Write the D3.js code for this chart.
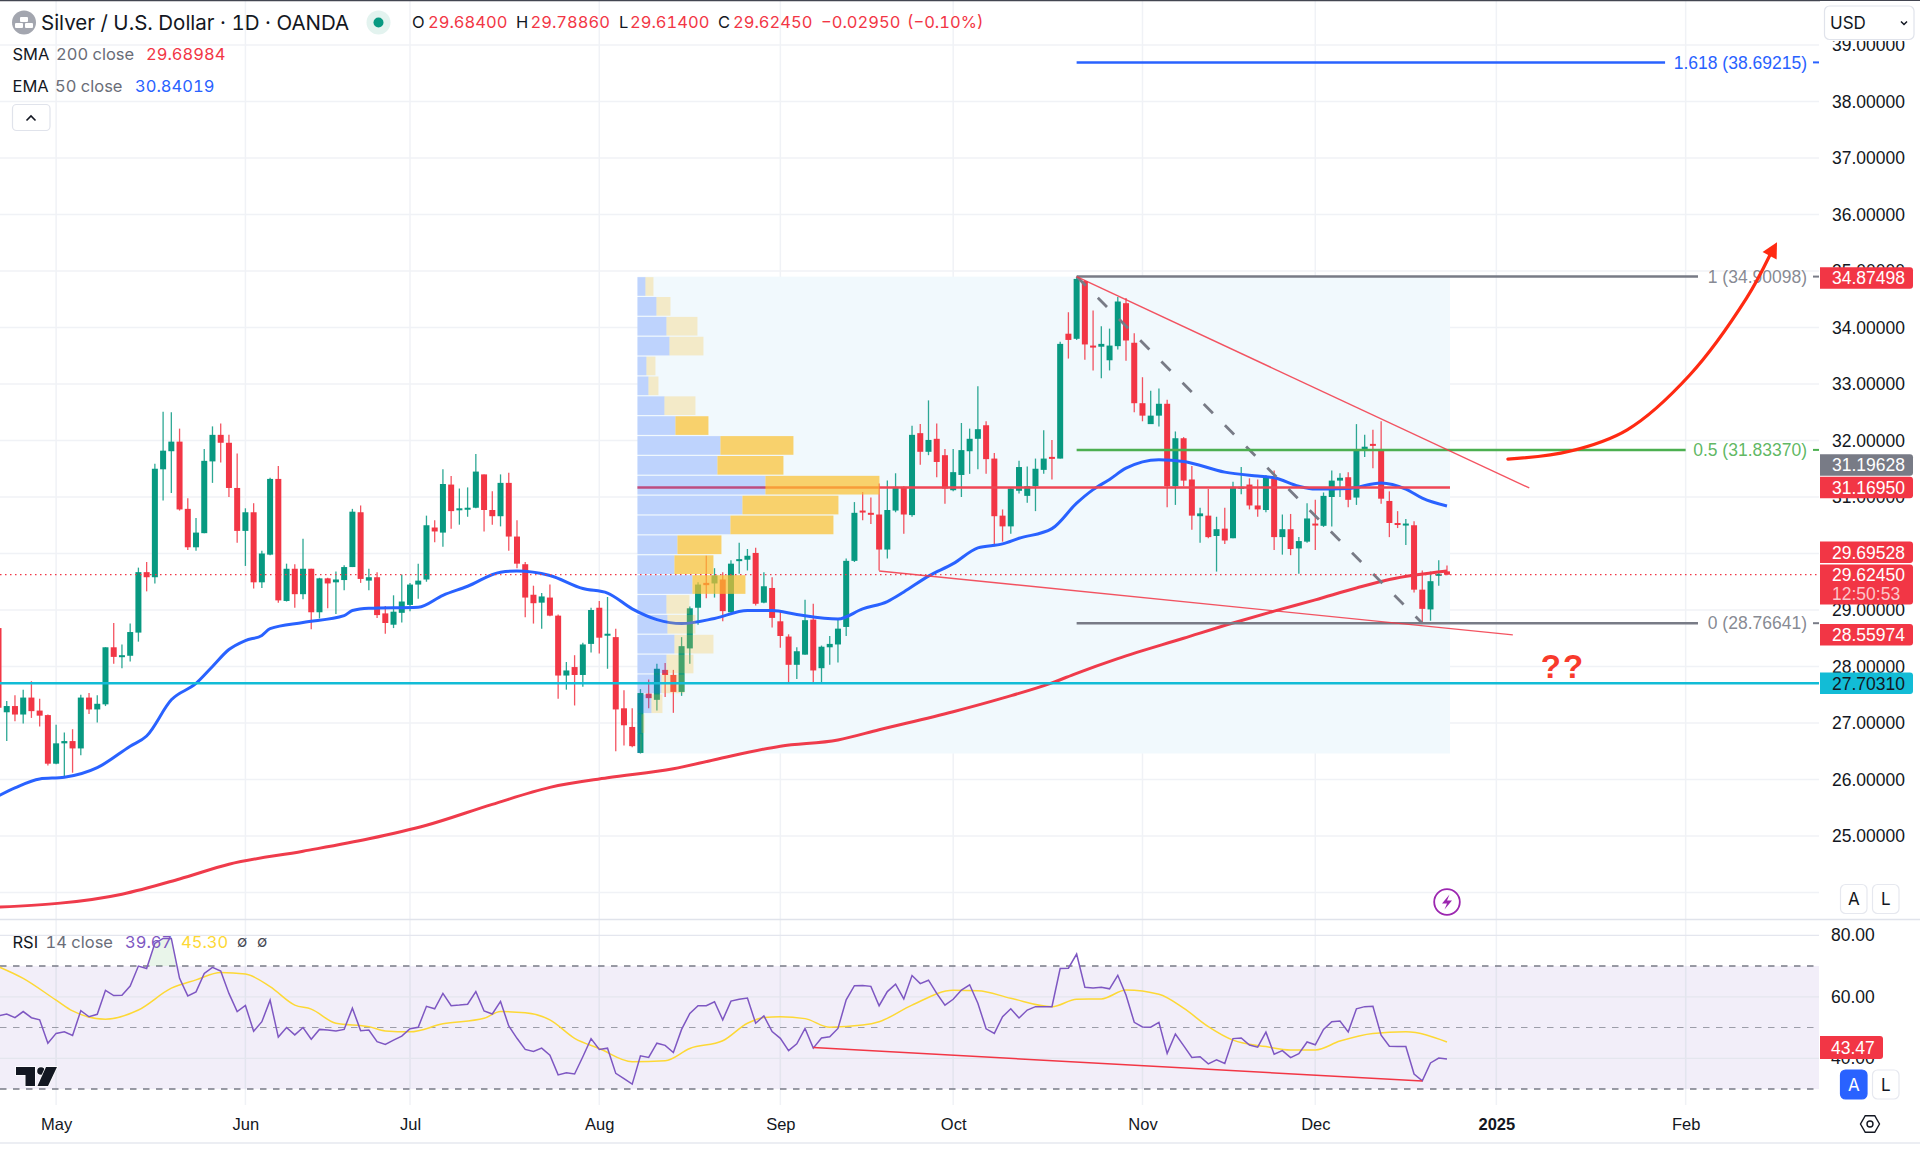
<!DOCTYPE html>
<html>
<head>
<meta charset="utf-8">
<title>Silver / U.S. Dollar</title>
<script src="https://cdn.jsdelivr.net/npm/d3@7"></script>
<style>
body { margin: 0; background: #fff; }
svg { display: block; font-family: Inter, "Noto Sans", sans-serif; font-variant-numeric: tabular-nums; }
</style>
</head>
<body>
<svg id="graph"></svg>
<script>
// candles, one per weekday, starting Apr 22 2024
var barOpen = [
	28.68,27.19,27.30,27.15,27.45,27.22,27.14,26.28,26.64,26.68,
	26.55,27.45,27.24,27.33,28.34,28.17,28.19,28.60,29.67,29.58,
	31.49,31.81,31.98,30.79,30.11,30.36,31.63,32.10,31.96,31.16,
	30.40,30.73,29.49,29.98,31.32,29.16,29.73,29.28,29.73,28.96,
	29.56,29.49,29.53,29.76,30.73,29.52,29.58,28.94,28.74,28.95,
	29.09,29.45,29.54,30.46,30.37,31.22,30.78,30.78,30.81,31.40,
	30.77,30.66,31.25,30.30,29.81,29.27,29.13,29.22,28.90,27.84,
	27.99,27.85,28.40,29.04,28.55,28.52,27.26,26.93,26.47,27.52,
	27.41,27.94,27.85,27.55,28.32,29.04,29.48,29.47,29.54,28.96,
	29.88,29.89,30.01,29.13,29.39,28.80,28.53,28.03,28.21,28.83,
	27.97,28.34,28.39,28.70,29.87,30.76,30.72,30.69,30.07,30.76,
	31.18,30.68,32.13,31.80,32.03,31.74,31.12,31.39,31.81,32.03,
	32.27,31.68,30.67,30.48,31.11,31.02,31.19,31.48,31.71,31.68,
	33.89,33.80,34.82,33.68,33.66,33.42,33.67,34.43,33.73,32.66,
	32.29,32.44,32.65,31.19,32.04,31.31,30.66,30.67,30.31,30.44,
	30.27,31.15,31.22,30.85,30.77,31.32,30.29,30.43,30.09,30.21,
	30.53,30.49,31.00,31.29,31.35,30.99,31.85,31.94,31.85,30.93,
	30.54,30.50,30.50,29.36,29.01,29.62,29.684
];
var barClose = [
	27.27,27.30,27.15,27.45,27.21,27.13,26.28,26.64,26.68,26.55,
	27.45,27.24,27.34,28.34,28.17,28.20,28.61,29.67,29.58,31.50,
	31.82,31.98,30.78,30.11,30.37,31.64,32.10,31.96,31.16,30.40,
	30.73,29.49,30.00,31.32,29.17,29.73,29.28,29.73,28.96,29.56,
	29.47,29.54,29.76,30.74,29.55,29.58,28.91,28.77,28.97,29.15,
	29.45,29.52,30.50,30.39,31.23,30.75,30.80,30.81,31.45,30.77,
	30.66,31.25,30.30,29.82,29.22,29.12,29.24,28.90,27.84,27.93,
	27.85,28.39,29.00,28.51,28.58,27.24,26.96,26.59,27.53,27.44,
	27.96,27.85,27.55,28.36,29.03,29.45,29.44,29.61,28.98,29.82,
	29.90,29.96,29.11,29.42,28.86,28.54,28.03,28.27,28.82,27.93,
	28.35,28.40,28.67,29.87,30.72,30.73,30.69,30.07,30.77,31.18,
	30.69,32.10,31.80,32.01,31.62,31.15,31.44,31.83,32.03,32.20,
	31.67,30.66,30.48,31.15,31.53,31.19,31.50,31.68,31.68,33.71,
	33.78,34.86,33.70,33.67,33.71,33.68,34.46,33.77,32.66,32.44,
	32.44,32.65,31.19,32.04,31.29,30.67,30.71,30.29,30.43,30.23,
	31.18,31.18,30.85,30.78,31.37,30.29,30.43,30.08,30.22,30.62,
	30.51,31.02,31.29,31.34,30.95,31.83,31.89,31.93,30.97,30.54,
	30.53,30.53,29.36,29.02,29.51,29.64,29.6245
];
var barHigh = [
	28.68,27.39,27.49,27.59,27.74,27.43,27.15,26.97,26.83,26.89,
	27.50,27.53,27.49,28.34,28.77,28.39,28.76,29.75,29.85,31.59,
	32.51,32.50,32.21,30.98,30.63,31.85,32.25,32.30,32.10,31.77,
	30.80,30.89,30.05,31.34,31.55,29.82,29.81,30.26,29.73,29.57,
	29.57,29.68,29.79,30.79,30.85,29.73,29.67,29.07,29.26,29.63,
	29.48,29.82,30.67,30.59,31.49,31.37,31.15,31.17,31.76,31.40,
	31.10,31.40,31.43,30.59,29.85,29.43,29.30,29.45,28.92,28.08,
	28.20,28.42,29.04,29.16,29.23,28.67,27.58,27.26,27.60,27.77,
	28.05,28.06,27.94,28.52,29.06,29.49,29.96,29.74,29.67,29.88,
	30.19,30.08,30.10,29.67,29.58,28.98,28.57,28.34,29.18,29.11,
	28.37,28.54,28.84,29.91,30.91,31.09,30.99,31.24,31.29,31.42,
	31.19,32.26,32.29,32.71,32.30,31.85,31.85,32.31,32.21,32.96,
	32.34,31.78,30.78,31.16,31.64,31.54,31.68,32.18,32.01,33.75,
	34.27,34.90,34.83,34.30,34.02,33.98,34.54,34.52,33.90,33.12,
	32.88,32.92,32.72,32.16,32.06,31.55,30.81,31.14,30.65,30.81,
	31.27,31.53,31.33,31.31,31.39,31.47,30.69,30.70,30.29,30.89,
	30.95,31.08,31.47,31.42,31.44,32.29,32.10,32.19,32.34,31.10,
	30.75,30.61,30.57,29.70,29.68,29.88,29.7886
];
var barLow = [
	27.24,26.68,27.03,26.99,27.09,26.94,26.25,26.27,26.03,26.12,
	26.43,27.16,27.01,27.30,28.05,27.97,28.09,28.44,29.33,29.47,
	30.94,31.07,30.76,30.06,30.05,30.36,31.25,31.61,31.00,30.19,
	29.78,29.38,29.39,29.97,29.13,29.15,29.04,29.19,28.66,28.85,
	29.03,28.93,29.35,29.76,29.48,29.35,28.86,28.58,28.68,28.78,
	28.98,29.20,29.50,30.20,30.12,30.44,30.51,30.65,30.80,30.39,
	30.51,30.48,30.05,29.74,28.87,28.76,28.67,28.89,27.43,27.59,
	27.31,27.64,28.25,28.23,27.96,26.50,26.60,26.57,26.46,27.26,
	27.22,27.46,27.18,27.48,28.05,28.74,29.21,29.22,28.80,28.95,
	29.64,29.70,29.08,29.12,28.69,28.33,27.71,27.78,28.21,27.71,
	27.71,28.03,28.07,28.54,29.85,30.59,30.52,29.70,29.91,30.73,
	30.35,30.65,31.57,31.74,31.35,30.88,31.10,31.00,31.41,31.49,
	31.41,30.13,30.21,30.35,31.06,30.90,30.75,31.41,31.31,31.68,
	33.45,33.78,33.43,33.24,33.10,33.24,33.61,33.41,32.50,32.34,
	32.29,32.25,30.82,30.86,31.19,30.42,30.19,30.27,29.68,30.17,
	30.27,31.05,30.78,30.65,30.73,30.06,29.98,29.97,29.64,30.19,
	30.06,30.47,30.48,31.00,30.82,30.86,31.71,31.51,30.88,30.29,
	30.45,30.15,29.31,28.78,28.81,29.43,29.614
];

// moving averages, read at the bars listed next to them
var emaBars = [0,2,5,8,12,16,18,21,24,26,28,30,32,33,37,42,43,45,51,54,57,61,63,67,71,74,77,80,83,87,91,94,97,102,105,108,110,113,116,119,122,124,128,131,133,135,137,141,144,149,153,155,158,160,164,168,171,173,176];
var emaValues = [25.71,25.85,26.01,26.04,26.21,26.59,26.77,27.41,27.70,28.00,28.30,28.46,28.55,28.67,28.78,28.90,28.99,29.03,29.05,29.26,29.42,29.67,29.69,29.61,29.38,29.30,29.02,28.83,28.76,28.85,28.99,28.99,28.92,28.84,29.02,29.15,29.32,29.60,29.82,30.10,30.17,30.27,30.44,30.89,31.13,31.31,31.51,31.66,31.63,31.44,31.37,31.34,31.19,31.14,31.15,31.25,31.14,30.98,30.84];
var smaBars = [0,15,22,28,37,45,52,60,67,74,82,87,95,102,107,116,122,128,131,136,144,150,155,160,165,169,176];
var smaValues = [23.74,23.97,24.24,24.50,24.73,24.95,25.19,25.56,25.86,26.03,26.19,26.35,26.59,26.70,26.88,27.20,27.44,27.71,27.88,28.14,28.50,28.77,28.98,29.18,29.39,29.54,29.69];

// rsi, one per bar
var rsiValues = [
	53.8,54.4,53.2,55.2,53.2,52.5,44.9,48.1,48.6,47.4,
	55.5,53.5,54.3,62.1,60.4,60.5,63.5,70.0,69.2,77.4,
	79.0,79.0,66.0,60.3,61.6,67.6,69.6,68.4,61.1,55.2,
	57.2,48.8,51.9,58.9,46.9,50.0,47.6,50.0,46.2,49.4,
	49.2,48.9,49.4,56.3,49.0,49.2,45.4,44.5,45.9,47.2,
	49.6,50.1,56.9,56.1,61.1,57.1,57.3,57.6,61.7,55.4,
	54.4,58.5,50.5,46.5,42.9,42.2,43.3,41.0,34.6,35.3,
	34.9,40.5,46.4,42.9,43.3,35.1,33.4,31.6,40.8,40.3,
	44.9,44.2,41.9,49.4,54.6,57.1,57.1,58.4,52.5,58.6,
	59.2,59.6,51.4,53.8,48.7,46.5,42.5,44.7,49.7,43.3,
	46.6,47.0,49.7,59.0,63.6,63.7,63.4,57.1,61.7,64.1,
	59.3,66.9,64.3,65.4,61.1,57.3,59.2,62.2,63.9,57.9,
	49.6,48.1,53.5,56.1,53.1,55.7,56.8,56.8,56.8,69.2,
	69.3,73.9,63.1,62.9,63.1,62.6,67.0,60.6,51.7,50.2,
	50.1,51.7,41.6,47.9,44.1,40.3,40.5,38.2,39.5,38.3,
	46.4,46.6,44.3,43.6,48.5,41.3,42.5,40.2,41.5,45.3,
	44.4,49.4,51.9,52.1,48.6,56.1,56.8,56.9,47.5,43.9,
	43.8,43.8,34.9,32.7,38.5,40.1,39.8
];
var rsiMaBars = [0,3,7,9,13,17,21,24,27,30,33,36,38,41,45,47,50,54,59,61,64,67,70,73,77,81,84,88,91,93,95,98,101,105,107,111,116,119,123,128,131,134,137,141,144,147,150,154,157,160,163,167,171,176];
var rsiMaValues = [69.8,66.0,58.9,55.4,52.7,55.7,62.8,65.5,67.9,67.4,63.3,57.3,56.0,51.4,50.3,48.9,48.6,51.2,53.0,55.2,54.8,52.5,46.5,43.2,38.9,39.2,43.2,45.7,51.4,53.3,53.5,52.9,50.1,50.8,51.9,57.3,62.1,62.0,59.5,56.8,59.2,59.3,62.2,60.8,56.3,50.3,45.9,43.8,42.7,42.7,45.6,48.1,48.6,45.3];
// only the May peak shows the overbought shading
var rsiShadeFrom = 17;
var rsiShadeTo = 22;

// volume profile rows, from the top of the range down
var profileUp = [8,19,29,32,9,11,27,38,83,80,128,105,93,40,37,55,29,30,37,29,24,14,4,3];
var profileDown = [8,14,31,34,9,10,31,33,73,66,114,96,103,44,39,53,23,28,39,27,23,11,3,1];
var profileTopPrice = 34.9;
var profileBottomPrice = 26.46;
var profileFromBar = 78;
var profileToBar = 176;
var valueAreaFirst = 7;
var valueAreaLast = 15;
var pocPrice = 31.1695;

// fibonacci levels
var fibLabels = ["1.618", "1", "0.5", "0"];
var fibPrices = [38.69215, 34.90098, 31.8337, 28.76641];
var fibColors = ["#2962ff", "#787b86", "#4caf50", "#787b86"];
var fibEndBars = [202.5, 206.5, 205, 206.5];
var fibFromBar = 131;
var fibToBar = 173;

var supportPrice = 27.7031;
var lastPrice = 29.6245;

// drawn lines
var upperTrendBars = [131, 186];
var upperTrendPrices = [34.90, 31.16];
var lowerTrendBars = [107, 184];
var lowerTrendPrices = [29.69, 28.56];
var rsiTrendBars = [99, 173];
var rsiTrendValues = [43.5, 32.6];
var arrowBars = [183.4, 190.9, 197.9, 205.5, 212.4, 215.2];
var arrowPrices = [31.67, 31.81, 32.19, 33.16, 34.52, 35.27];
var arrowTipBar = 216.1;
var arrowTipPrice = 35.51;

// axes
var priceTicks = [25,26,27,28,29,30,31,32,33,34,35,36,37,38,39];
var gridPrices = [24,25,26,27,28,29,30,31,32,33,34,35,36,37,38,39];
var rsiTicks = [80, 60, 40];
var monthBars = [7,30,50,73,95,116,139,160,182,205];
var monthLabels = ["May","Jun","Jul","Aug","Sep","Oct","Nov","Dec","2025","Feb"];

// right scale tags
var tagValues = [34.87498, 31.19628, 31.1695, 29.69528, 28.55974, 27.7031];
var tagColors = ["#f23645", "#787b86", "#f23645", "#f23645", "#f23645", "#12bcd6"];
var tagText = ["#fff", "#fff", "#fff", "#fff", "#fff", "#131722"];
var tagShift = [0, -21, 0, -18.4, 0, 0];

var width = 1920, height = 1149;
var plotRight = 1819, mainBottom = 919, rsiBottom = 1105;
var red = "#f23645", green = "#089981", dark = "#131722", gridColor = "#f0f2f6";
var axisFont = 17.5;
var axisFamily = "'Liberation Sans', Arial, sans-serif";

var svg = d3.select("#graph").attr("width", width).attr("height", height);

var x = d3.scaleLinear().domain([0, 205]).range([-1.5, 1685.65]);
var y = d3.scaleLinear().domain([27, 38]).range([723, 101.5]);
var yRsi = d3.scaleLinear().domain([80, 40]).range([935.3, 1058.3]);

svg.append("defs").append("clipPath").attr("id", "mainClip")
	.append("rect").attr("x", 0).attr("y", 0).attr("width", plotRight).attr("height", mainBottom);
svg.select("defs").append("clipPath").attr("id", "rsiOver")
	.append("rect").attr("x", 0).attr("y", 919).attr("width", plotRight).attr("height", yRsi(70) - 919);

function hLine(g, x1, x2, yy, color, w, dash) {
	return g.append("line").attr("x1", x1).attr("x2", x2).attr("y1", yy).attr("y2", yy)
		.attr("stroke", color).attr("stroke-width", w).attr("stroke-dasharray", dash || null);
}

// grid
var grid = svg.append("g");
gridPrices.forEach(function(p) { hLine(grid, 0, plotRight, y(p), gridColor, 1.5); });
monthBars.forEach(function(b) {
	grid.append("line").attr("x1", x(b)).attr("x2", x(b)).attr("y1", 0).attr("y2", rsiBottom)
		.attr("stroke", gridColor).attr("stroke-width", 1.5);
});

var main = svg.append("g").attr("clip-path", "url(#mainClip)");

// profile background
main.append("rect").attr("x", x(profileFromBar) - 3).attr("y", y(profileTopPrice))
	.attr("width", x(profileToBar) - x(profileFromBar) + 6)
	.attr("height", y(profileBottomPrice) - y(profileTopPrice))
	.attr("fill", "#f1f9fd");

// candles
var candles = main.selectAll("g.candle").data(barOpen).enter().append("g").attr("class", "candle");
candles.append("line")
	.attr("x1", function(d, i) { return x(i); }).attr("x2", function(d, i) { return x(i); })
	.attr("y1", function(d, i) { return y(barHigh[i]); }).attr("y2", function(d, i) { return y(barLow[i]); })
	.attr("stroke-width", 1.3).attr("stroke-opacity", 0.85)
	.attr("stroke", function(d, i) { return barClose[i] >= d ? green : red; });
candles.append("rect")
	.attr("x", function(d, i) { return x(i) - 3; }).attr("width", 6)
	.attr("y", function(d, i) { return y(Math.max(d, barClose[i])); })
	.attr("height", function(d, i) { return Math.max(2, Math.abs(y(d) - y(barClose[i]))); })
	.attr("fill", function(d, i) { return barClose[i] >= d ? green : red; });

// moving averages
var avgLine = d3.line().x(function(d) { return x(d[0]); }).y(function(d) { return y(d[1]); }).curve(d3.curveMonotoneX);
main.append("path").attr("d", avgLine(d3.zip(smaBars, smaValues)))
	.attr("fill", "none").attr("stroke", "#ef3b4b").attr("stroke-width", 3);
main.append("path").attr("d", avgLine(d3.zip(emaBars, emaValues)))
	.attr("fill", "none").attr("stroke", "#2962ff").attr("stroke-width", 3);

// point of control
hLine(main, x(profileFromBar) - 3, x(profileToBar) + 3, y(pocPrice), "#ef4655", 2.5);

// fib dashed diagonal
var straight = d3.line().x(function(d) { return x(d[0]); }).y(function(d) { return y(d[1]); });
main.append("path").attr("d", straight([[fibFromBar, fibPrices[1]], [fibToBar, fibPrices[3]]]))
	.attr("stroke", "#787b86").attr("stroke-width", 2.8).attr("stroke-dasharray", "13 17").attr("fill", "none");

// fib levels and their labels
fibPrices.forEach(function(p, i) {
	hLine(main, x(fibFromBar), x(fibEndBars[i]), y(p), fibColors[i], 2.5);
	main.append("text").attr("x", 1807).attr("y", y(p)).attr("dy", "0.36em").attr("text-anchor", "end")
		.attr("font-family", axisFamily).attr("font-size", axisFont)
		.attr("fill", fibColors[i]).attr("fill-opacity", i == 0 ? 1 : 0.9)
		.text(fibLabels[i] + " (" + p.toFixed(5) + ")");
	hLine(main, 1813, 1819, y(p), fibColors[i], 2);
});

// trend lines
[[upperTrendBars, upperTrendPrices], [lowerTrendBars, lowerTrendPrices]].forEach(function(t) {
	main.append("path").attr("d", straight(d3.zip(t[0], t[1])))
		.attr("stroke", "#f23645").attr("stroke-opacity", 0.85).attr("stroke-width", 1.4).attr("fill", "none");
});

// volume profile goes over the candles
var rowStep = (profileTopPrice - profileBottomPrice) / profileUp.length;
var vol = d3.scaleLinear().domain([0, 1]).range([0, 1]);
var rows = main.selectAll("g.row").data(profileUp).enter().append("g").attr("class", "row");
rows.append("rect")
	.attr("x", x(profileFromBar) - 3)
	.attr("y", function(d, i) { return y(profileTopPrice - i * rowStep) + 0.5; })
	.attr("height", y(0) - y(rowStep) - 1.2)
	.attr("width", function(d) { return vol(d); })
	.attr("fill", "rgba(41,98,255,0.25)");
rows.append("rect")
	.attr("x", function(d) { return x(profileFromBar) - 3 + vol(d); })
	.attr("y", function(d, i) { return y(profileTopPrice - i * rowStep) + 0.5; })
	.attr("height", y(0) - y(rowStep) - 1.2)
	.attr("width", function(d, i) { return vol(profileDown[i]); })
	.attr("fill", function(d, i) {
		return i >= valueAreaFirst && i <= valueAreaLast ? "rgba(251,192,45,0.7)" : "rgba(251,192,45,0.25)";
	});

// support and last price
hLine(main, 0, plotRight, y(supportPrice), "#12bcd6", 2.5);
hLine(main, 0, plotRight, y(lastPrice), red, 1.2, "1.5 3.5");

// hand drawn arrow
main.append("path")
	.attr("d", d3.line().x(function(d) { return x(d[0]); }).y(function(d) { return y(d[1]); })
		.curve(d3.curveCatmullRom)(d3.zip(arrowBars, arrowPrices)))
	.attr("fill", "none").attr("stroke", "#ff2a12").attr("stroke-width", 3.2).attr("stroke-linecap", "round");
var tx = x(arrowTipBar), ty = y(arrowTipPrice);
var bx = x(arrowBars[5]), by = y(arrowPrices[5]);
var len = Math.sqrt((tx - bx) * (tx - bx) + (ty - by) * (ty - by));
var nx = -(ty - by) / len * 8, ny = (tx - bx) / len * 8;
main.append("polygon")
	.attr("points", [[tx, ty], [bx + nx, by + ny], [bx - nx, by - ny]].join(" "))
	.attr("fill", "#ff2a12");

main.append("text").attr("x", 1563).attr("y", 678).attr("text-anchor", "middle")
	.attr("font-family", axisFamily).attr("font-weight", "bold")
	.attr("font-size", 33).attr("letter-spacing", 2).attr("fill", "#f83a2c").text("??");

// price axis
var priceAxis = d3.axisRight(y).tickValues(priceTicks).tickSize(0).tickPadding(0)
	.tickFormat(function(d) { return d.toFixed(5); });
var priceG = svg.append("g").attr("transform", "translate(1832,0)").call(priceAxis);
priceG.select(".domain").remove();
priceG.attr("font-family", axisFamily).attr("font-size", axisFont);
priceG.selectAll("text").attr("fill", dark);

// tags on the price axis
function axisText(xx, yy, label, color) {
	return svg.append("text").attr("x", xx).attr("y", yy).attr("dy", "0.36em")
		.attr("font-family", axisFamily).attr("font-size", axisFont).attr("fill", color).text(label);
}
function tag(yy, h, fill, label, textFill) {
	svg.append("path")
		.attr("d", "M1820," + (yy - h / 2) + "H1910q3,0 3,3V" + (yy + h / 2 - 3) + "q0,3 -3,3H1820Z")
		.attr("fill", fill);
	axisText(1832, yy, label, textFill);
}
tagValues.forEach(function(v, i) {
	tag(y(v) + tagShift[i], 21.5, tagColors[i], v.toFixed(5), tagText[i]);
});
// last price tag has the countdown under it
svg.append("path").attr("d", "M1820,564.5H1910q3,0 3,3V601.5q0,3 -3,3H1820Z").attr("fill", red);
axisText(1832, y(lastPrice), lastPrice.toFixed(5), "#fff");
axisText(1832, 593.5, "12:50:53", "#fff").attr("fill-opacity", 0.72);

// pane separator
hLine(svg, 0, width, 919.5, "#e0e3eb", 1.5);

// rsi pane
var rsi = svg.append("g");
rsi.append("rect").attr("x", 0).attr("width", plotRight).attr("y", yRsi(70)).attr("height", yRsi(30) - yRsi(70))
	.attr("fill", "#7e57c2").attr("fill-opacity", 0.1);
rsiTicks.forEach(function(t) { hLine(rsi, 0, plotRight, yRsi(t), "#e4e6ee", 1.2); });
monthBars.forEach(function(b) {
	rsi.append("line").attr("x1", x(b)).attr("x2", x(b)).attr("y1", yRsi(70)).attr("y2", yRsi(30))
		.attr("stroke", "#e4e6ee").attr("stroke-width", 1);
});
hLine(rsi, 0, plotRight, yRsi(70), "#787b86", 1.5, "6.5 6.5");
hLine(rsi, 0, plotRight, yRsi(50), "#787b86", 1.1, "6.5 6.5").attr("stroke-opacity", 0.7);
hLine(rsi, 0, plotRight, yRsi(30), "#787b86", 1.5, "6.5 6.5");

rsi.append("path").attr("clip-path", "url(#rsiOver)")
	.attr("d", d3.area().x(function(d, i) { return x(i + rsiShadeFrom); }).y0(yRsi(70)).y1(function(d) { return yRsi(d); })
		(rsiValues.slice(rsiShadeFrom, rsiShadeTo + 1)))
	.attr("fill", "#4caf50").attr("fill-opacity", 0.12);
rsi.append("path")
	.attr("d", d3.line().x(function(d) { return x(d[0]); }).y(function(d) { return yRsi(d[1]); })
		.curve(d3.curveMonotoneX)(d3.zip(rsiMaBars, rsiMaValues)))
	.attr("fill", "none").attr("stroke", "#fdd835").attr("stroke-width", 1.5);
rsi.append("path")
	.attr("d", d3.line().x(function(d, i) { return x(i); }).y(function(d) { return yRsi(d); })(rsiValues))
	.attr("fill", "none").attr("stroke", "#7e57c2").attr("stroke-width", 1.5);
rsi.append("path")
	.attr("d", d3.line().x(function(d) { return x(d[0]); }).y(function(d) { return yRsi(d[1]); })(d3.zip(rsiTrendBars, rsiTrendValues)))
	.attr("stroke", "#f23645").attr("stroke-width", 1.5).attr("fill", "none");

var rsiAxis = d3.axisRight(yRsi).tickValues(rsiTicks).tickSize(0).tickPadding(0)
	.tickFormat(function(d) { return d.toFixed(2); });
var rsiG = svg.append("g").attr("transform", "translate(1831,0)").call(rsiAxis);
rsiG.select(".domain").remove();
rsiG.attr("font-family", axisFamily).attr("font-size", axisFont);
rsiG.selectAll("text").attr("fill", dark);
svg.append("path").attr("d", "M1820,1036H1880q3,0 3,3V1056q0,3 -3,3H1820Z").attr("fill", red);
axisText(1831, 1047.5, "43.47", "#fff");

// time axis
var timeAxis = d3.axisBottom(x).tickValues(monthBars).tickSize(0).tickPadding(0)
	.tickFormat(function(d, i) { return monthLabels[i]; });
var timeG = svg.append("g").attr("transform", "translate(0,1118)").call(timeAxis);
timeG.select(".domain").remove();
timeG.attr("font-family", axisFamily).attr("font-size", 16.5);
timeG.selectAll("text").attr("fill", dark)
	.attr("font-weight", function(d, i) { return monthLabels[i] == "2025" ? 700 : 400; });
hLine(svg, 0, width, 1143, "#eceef3", 2);

// top edge
hLine(svg, 0, width, 0.5, "#434651", 1.5);

// legend
function legendText(xx, yy, str, color, size, weight) {
	return svg.append("text").attr("x", xx).attr("y", yy).attr("dy", "0.36em")
		.attr("font-size", size || 16.5).attr("font-weight", weight || 400).attr("fill", color).text(str);
}
svg.append("circle").attr("cx", 24).attr("cy", 22.5).attr("r", 12).attr("fill", "#a3a6af");
[[20, 17, 8], [15, 23, 8], [25, 23, 8]].forEach(function(b) {
	svg.append("rect").attr("x", b[0]).attr("y", b[1]).attr("width", b[2]).attr("height", 5).attr("rx", 1).attr("fill", "#fff");
});
legendText(41, 22.5, "Silver / U.S. Dollar · 1D · OANDA", dark, 20.5);
svg.append("circle").attr("cx", 378.5).attr("cy", 22.5).attr("r", 12).attr("fill", "#e3f3ef");
svg.append("circle").attr("cx", 378.5).attr("cy", 22.5).attr("r", 5).attr("fill", green);
legendText(412, 22.5, "O", dark);
legendText(428, 22.5, "29.68400", red);
legendText(516, 22.5, "H", dark);
legendText(530.5, 22.5, "29.78860", red);
legendText(619, 22.5, "L", dark);
legendText(630, 22.5, "29.61400", red);
legendText(718, 22.5, "C", dark);
legendText(733, 22.5, "29.62450", red);
legendText(821, 22.5, "−0.02950", red);
legendText(907, 22.5, "(−0.10%)", red);

legendText(12.5, 54, "SMA", dark);
legendText(56, 54, "200 close", "#6a6d78");
legendText(146, 54, "29.68984", red);
legendText(12.5, 86, "EMA", dark);
legendText(55, 86, "50 close", "#6a6d78");
legendText(135, 86, "30.84019", "#2962ff");

svg.append("rect").attr("x", 12.5).attr("y", 104.5).attr("width", 37.5).attr("height", 26).attr("rx", 4)
	.attr("fill", "#fff").attr("stroke", "#e0e3eb").attr("stroke-width", 1.2);
svg.append("path").attr("d", "M26.5,120.5l4.5,-4.5l4.5,4.5").attr("fill", "none").attr("stroke", dark).attr("stroke-width", 1.6);

// rsi legend
legendText(12.5, 942, "RSI", dark);
legendText(45.5, 942, "14 close", "#6a6d78");
legendText(125, 942, "39.67", "#7e57c2");
legendText(181, 942, "45.30", "#fdd835");
legendText(237, 942, "∅", "#434651", 15);
legendText(257, 942, "∅", "#434651", 15);

// USD box, hides the top of the 39 tick
svg.append("rect").attr("x", 1820).attr("y", 1).attr("width", 100).attr("height", 40).attr("fill", "#fff");
svg.append("rect").attr("x", 1824.5).attr("y", 6).attr("width", 89.5).attr("height", 33.5).attr("rx", 5)
	.attr("fill", "#fff").attr("stroke", "#e0e3eb").attr("stroke-width", 1.2);
legendText(1830, 23, "USD", dark, 17);
svg.append("path").attr("d", "M1901,21.5l3,3l3,-3").attr("fill", "none").attr("stroke", dark).attr("stroke-width", 1.5);

// A L buttons
function scaleButton(xx, yy, label, fill, color) {
	svg.append("rect").attr("x", xx).attr("y", yy).attr("width", 26.5).attr("height", 29).attr("rx", 5)
		.attr("fill", fill).attr("stroke", fill == "#fff" ? "#e6e8ef" : fill).attr("stroke-width", 1.2);
	svg.append("text").attr("x", xx + 13.25).attr("y", yy + 14.5).attr("dy", "0.36em").attr("text-anchor", "middle")
		.attr("font-size", 17).attr("fill", color).text(label);
}
scaleButton(1840.5, 884.5, "A", "#fff", dark);
scaleButton(1872.5, 884.5, "L", "#fff", dark);
scaleButton(1840.5, 1070, "A", "#2962ff", "#fff");
scaleButton(1872.5, 1070, "L", "#fff", dark);

// lightning badge
svg.append("circle").attr("cx", 1447).attr("cy", 902).attr("r", 12.8).attr("fill", "#fff").attr("stroke", "#9c27b0").attr("stroke-width", 1.8);
svg.append("path").attr("d", "M1449.5,894.5L1442,903.5H1447L1444.5,909.5L1452,900.5H1447Z").attr("fill", "#9c27b0");

// gear
var hex = d3.range(6).map(function(i) {
	var a = i * Math.PI / 3;
	return [1870 + 9.5 * Math.cos(a), 1124 + 9.5 * Math.sin(a)];
});
svg.append("polygon").attr("points", hex.join(" ")).attr("fill", "none").attr("stroke", dark).attr("stroke-width", 1.4);
svg.append("circle").attr("cx", 1870).attr("cy", 1124).attr("r", 3).attr("fill", "none").attr("stroke", dark).attr("stroke-width", 1.4);

// tradingview mark
var logo = svg.append("g").attr("fill", dark).attr("stroke", "#fff").attr("stroke-width", 1.5).attr("paint-order", "stroke");
logo.append("path").attr("d", "M16,1067H35V1086H25.5V1075H16Z");
logo.append("circle").attr("cx", 41).attr("cy", 1071).attr("r", 3.8);
logo.append("path").attr("d", "M46,1067H57L48,1086H37.5Z");
</script>
</body>
</html>
